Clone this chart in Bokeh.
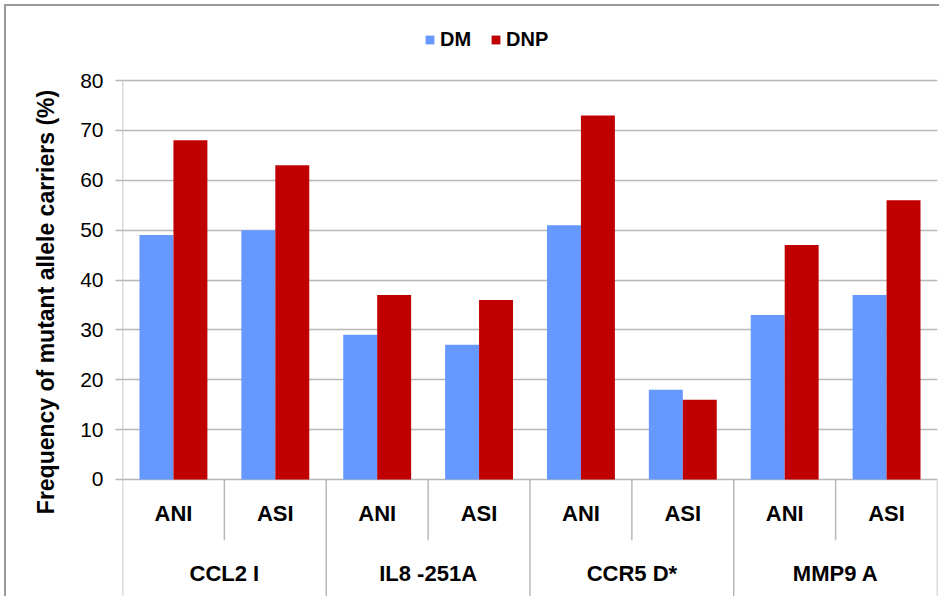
from bokeh.plotting import figure
from bokeh.models import Range1d, FixedTicker, Legend, LegendItem
from bokeh.core.properties import value
from bokeh.embed import file_html
from bokeh.resources import INLINE

# ---- data ----
genes = ["CCL2 I", "IL8 -251A", "CCR5 D*", "MMP9 A"]
groups = ["ANI", "ASI"]
dm = [49, 50, 29, 27, 51, 18, 33, 37]
dnp = [68, 63, 37, 36, 73, 16, 47, 56]
yticks = [0, 10, 20, 30, 40, 50, 60, 70, 80]
series_names = ["DM", "DNP"]
colors = ["#6699FF", "#C00000"]
y_title = "Frequency of mutant allele carriers (%)"

FONT = "Liberation Sans"
GRID = "#B8B8B8"

n_sub = len(genes) * len(groups)
sub_labels = [g for _ in genes for g in groups]
sub_x = [i + 0.5 for i in range(n_sub)]
gene_x = [len(groups) * k + len(groups) / 2 for k in range(len(genes))]
bw = 1 / 3

# vertical extent: room for the legend above 80 and the category labels below 0
y_bottom = -23.66
y_top = 94.84

p = figure(width=935, height=592,
           x_range=Range1d(0, n_sub), y_range=Range1d(y_bottom, y_top),
           output_backend="svg", toolbar_location=None,
           x_axis_location=None,
           min_border_left=116, min_border_right=4,
           min_border_top=0, min_border_bottom=1,
           styles={"margin-left": "4px", "margin-top": "4px",
                   "border-top": "2px solid #9A9A9A",
                   "border-left": "2px solid #9A9A9A"})
p.outline_line_color = None
p.background_fill_color = "white"
p.border_fill_color = "white"
p.xgrid.grid_line_color = None

# y axis
ax = p.yaxis[0]
ax.ticker = FixedTicker(ticks=yticks)
ax.minor_tick_line_color = None
ax.major_tick_in = 0
ax.major_tick_out = 7
ax.major_tick_line_color = GRID
ax.major_tick_line_width = 1.5
ax.axis_line_color = None
ax.major_label_standoff = 12
ax.major_label_text_font = FONT
ax.major_label_text_font_size = "21px"
ax.major_label_text_color = "black"
ax.axis_label = y_title
ax.axis_label_standoff = 18
ax.axis_label_text_font = FONT
ax.axis_label_text_font_size = "23px"
ax.axis_label_text_font_style = "bold"
ax.axis_label_text_color = "black"
p.ygrid.ticker = FixedTicker(ticks=yticks)
p.ygrid.grid_line_color = GRID
p.ygrid.grid_line_width = 1.5

# bars
r_dm = p.vbar(x=[x - bw / 2 for x in sub_x], top=dm, width=bw, bottom=0,
              fill_color=colors[0], line_color=None)
r_dnp = p.vbar(x=[x + bw / 2 for x in sub_x], top=dnp, width=bw, bottom=0,
               fill_color=colors[1], line_color=None)

# value-axis line (0 .. 80) and category separators
p.segment(x0=[0], x1=[0], y0=[0], y1=[yticks[-1]], line_color=GRID, line_width=1.5)
sub_sep = [i for i in range(1, n_sub, len(groups))]
grp_sep = [i for i in range(0, n_sub + 1, len(groups))]
p.segment(x0=sub_sep, x1=sub_sep, y0=[0] * len(sub_sep), y1=[-12.2] * len(sub_sep),
          line_color=GRID, line_width=1.5)
p.segment(x0=grp_sep, x1=grp_sep, y0=[0] * len(grp_sep), y1=[y_bottom] * len(grp_sep),
          line_color=GRID, line_width=1.5)

# category labels
p.text(x=sub_x, y=[-6.82] * n_sub, text=sub_labels,
       text_font=value(FONT), text_font_size="22px", text_font_style="bold",
       text_align="center", text_baseline="alphabetic", text_color="black")
p.text(x=gene_x, y=[-18.75] * len(genes), text=genes,
       text_font=value(FONT), text_font_size="22px", text_font_style="bold",
       text_align="center", text_baseline="alphabetic", text_color="black")

# legend
legend = Legend(items=[LegendItem(label=series_names[0], renderers=[r_dm]),
                       LegendItem(label=series_names[1], renderers=[r_dnp])],
                orientation="horizontal", location=(302, 546),
                border_line_color=None, background_fill_alpha=0,
                padding=0, margin=0, spacing=19, label_standoff=5,
                glyph_width=11, glyph_height=11, label_height=20,
                label_text_font=FONT, label_text_font_size="20px",
                label_text_font_style="bold", label_text_color="black")
p.add_layout(legend)

open("out.html", "w").write(file_html(p, INLINE))
